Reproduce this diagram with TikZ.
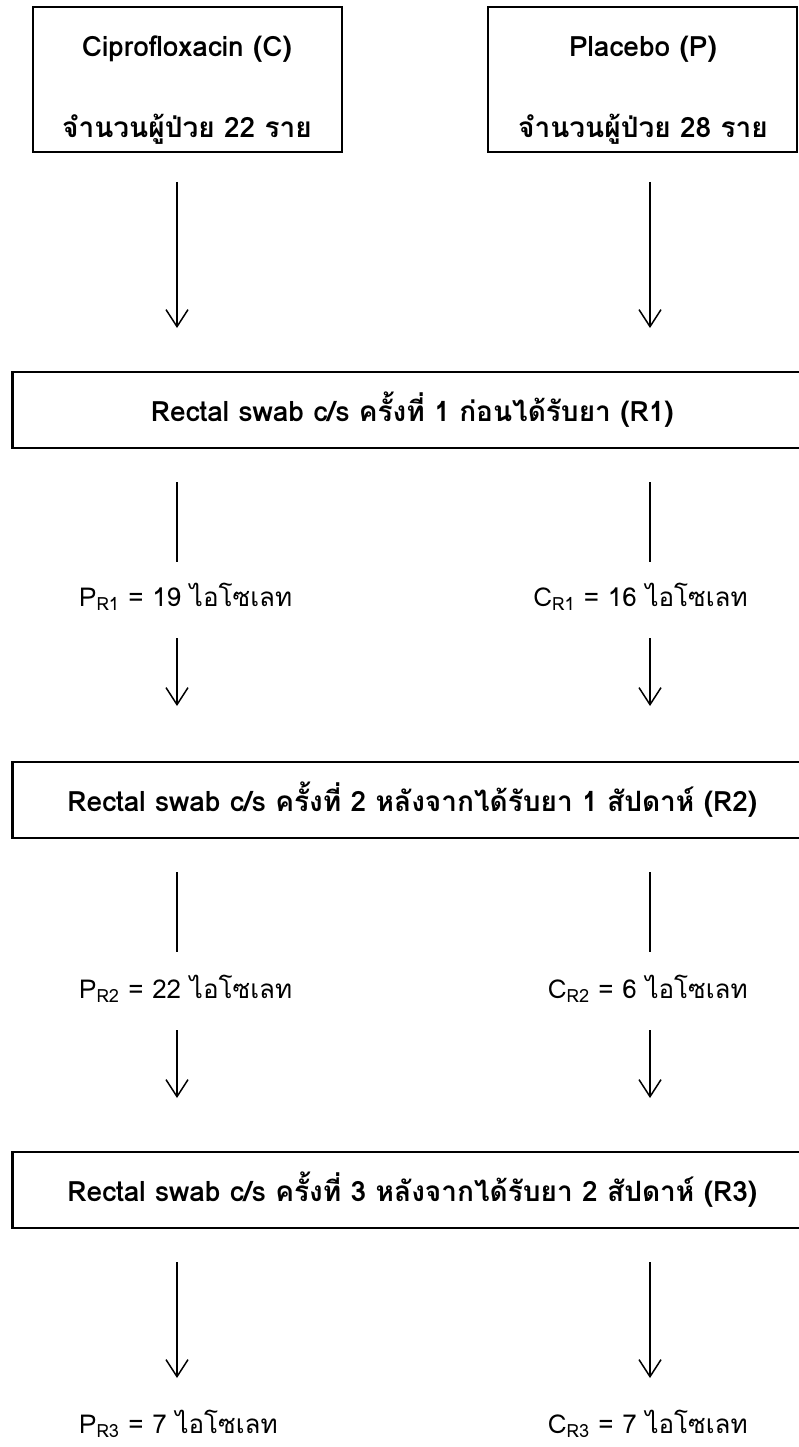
\documentclass[tikz,border=0pt]{standalone}
\usepackage{fontspec}
\setmainfont[Script=Thai]{Loma}
\usetikzlibrary{arrows.meta}
\begin{document}
\begin{tikzpicture}[x=1pt,y=-1pt,
  box/.style={draw, line width=2.6pt, rectangle, inner sep=0pt},
  boxtext/.style={font=\fontsize{28}{28}\selectfont\bfseries, inner sep=0pt},
  lbl/.style={font=\fontsize{26}{26}\selectfont, inner sep=0pt},
  ln/.style={line width=1.5pt},
  arr/.style={line width=1.5pt, -{Straight Barb[length=17pt,width=22pt,line width=1.5pt]}}]
\useasboundingbox (0,0) rectangle (799,1447);
\clip (0,0) rectangle (799,1447);
% top boxes
\node[box, minimum width=309pt, minimum height=145pt] (bc) at (187.5,79.5) {};
\node[boxtext, anchor=base] (bc1) at (187,57) {Ciprofloxacin (C)};
\node[boxtext, anchor=base] (bc2) at (187,138) {จำนวนผู้ป่วย 22 ราย};
\node[box, minimum width=309pt, minimum height=145pt] (bp) at (642.5,79.5) {};
\node[boxtext, anchor=base] (bp1) at (643,57) {Placebo (P)};
\node[boxtext, anchor=base] (bp2) at (643,138) {จำนวนผู้ป่วย 28 ราย};
% coordinates
\coordinate (a1s) at (177,182); \coordinate (a1e) at (177,328);
\coordinate (b1s) at (650,182); \coordinate (b1e) at (650,328);
\draw[arr] (a1s) -- (a1e);
\draw[arr] (b1s) -- (b1e);
% R1
\node[box, boxtext, minimum width=800pt, minimum height=76pt, anchor=west] (r1) at (11,410) {Rectal swab c/s ครั้งที่ 1 ก่อนได้รับยา (R1)};
\coordinate (l1s) at (177,482); \coordinate (l1e) at (177,562);
\coordinate (m1s) at (650,482); \coordinate (m1e) at (650,562);
\draw[ln] (l1s) -- (l1e);
\draw[ln] (m1s) -- (m1e);
\node[lbl, anchor=base west] (p1) at (79,606) {P\textsubscript{R1} = 19 ไอโซเลท};
\node[lbl, anchor=base east] (c1) at (748,606) {C\textsubscript{R1} = 16 ไอโซเลท};
\coordinate (a2s) at (177,638); \coordinate (a2e) at (177,706);
\coordinate (b2s) at (650,638); \coordinate (b2e) at (650,706);
\draw[arr] (a2s) -- (a2e);
\draw[arr] (b2s) -- (b2e);
% R2
\node[box, boxtext, minimum width=800pt, minimum height=76pt, anchor=west] (r2) at (11,800) {Rectal swab c/s ครั้งที่ 2 หลังจากได้รับยา 1 สัปดาห์ (R2)};
\coordinate (l2s) at (177,872); \coordinate (l2e) at (177,952);
\coordinate (m2s) at (650,872); \coordinate (m2e) at (650,952);
\draw[ln] (l2s) -- (l2e);
\draw[ln] (m2s) -- (m2e);
\node[lbl, anchor=base west] (p2) at (79,998) {P\textsubscript{R2} = 22 ไอโซเลท};
\node[lbl, anchor=base east] (c2) at (748,998) {C\textsubscript{R2} = 6 ไอโซเลท};
\coordinate (a3s) at (177,1030); \coordinate (a3e) at (177,1098);
\coordinate (b3s) at (650,1030); \coordinate (b3e) at (650,1098);
\draw[arr] (a3s) -- (a3e);
\draw[arr] (b3s) -- (b3e);
% R3
\node[box, boxtext, minimum width=800pt, minimum height=76pt, anchor=west] (r3) at (11,1190) {Rectal swab c/s ครั้งที่ 3 หลังจากได้รับยา 2 สัปดาห์ (R3)};
\coordinate (a4s) at (177,1262); \coordinate (a4e) at (177,1378);
\coordinate (b4s) at (650,1262); \coordinate (b4e) at (650,1378);
\draw[arr] (a4s) -- (a4e);
\draw[arr] (b4s) -- (b4e);
\node[lbl, anchor=base west] (p3) at (79,1433) {P\textsubscript{R3} = 7 ไอโซเลท};
\node[lbl, anchor=base east] (c3) at (748,1433) {C\textsubscript{R3} = 7 ไอโซเลท};
\end{tikzpicture}
\end{document}
